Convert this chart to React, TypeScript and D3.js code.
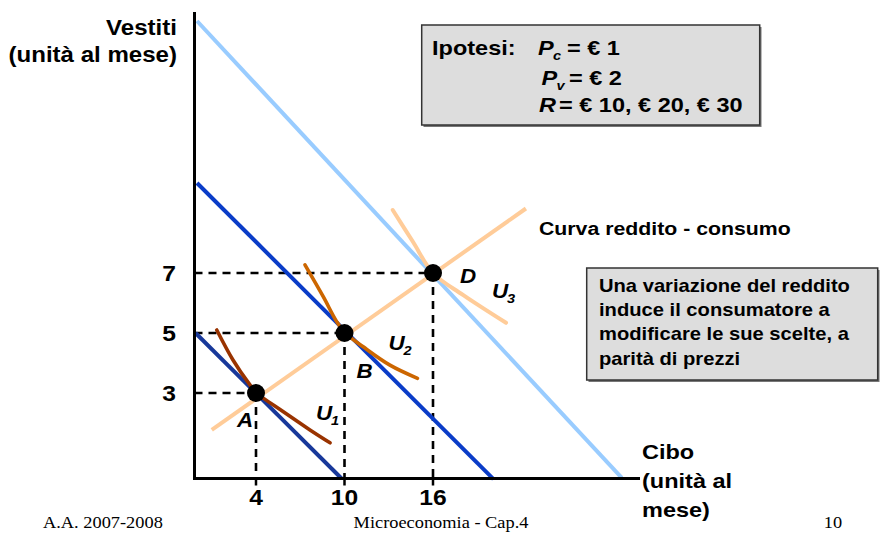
import * as d3 from 'd3';

// ---- dati (unità: cibo, vestiti) ----
const xTicks = [4, 10, 16];
const yTicks = [3, 5, 7];

const budgetR10: [number, number][] = [[-0.1, 5.0], [9.8, 0.15]];
const budgetR20: [number, number][] = [[0, 10.0], [20.1, 0.13]];
const budgetR30: [number, number][] = [[0, 15.4], [28.8, 0.17]];

const incomeConsumption: [number, number][] = [[1.0, 1.77], [22.3, 9.15]];

const curveU1: [number, number][] = [
  [1.34, 5.1], [2.44, 4.1], [3.59, 3.27], [4.05, 3.0], [5.83, 2.38], [7.66, 1.77], [9.02, 1.34],
];
const curveU2: [number, number][] = [
  [7.32, 7.27], [8.56, 6.21], [9.47, 5.38], [10.05, 5.0], [11.27, 4.54], [13.08, 3.93], [14.95, 3.49],
];
const curveU3: [number, number][] = [
  [13.27, 9.1], [14.64, 8.04], [16.0, 7.0], [18.03, 6.27], [20.95, 5.34],
];

const optimumNames = ['A', 'B', 'D'];
const optimumCibo = [4, 10, 16];
const optimumVestiti = [3, 5, 7];

const hypothesisLines = ['= € 1', '= € 2', '= € 10, € 20, € 30'];
const noteLines = [
  'Una variazione del reddito',
  'induce il consumatore a',
  'modificare le sue scelte, a',
  'parità di prezzi',
];

// ---- layout ----
const W = 882;
const H = 534;
const SANS = '"Liberation Sans", Arial, Helvetica, sans-serif';
const SERIF = '"Liberation Serif", "Times New Roman", serif';

const x = d3.scaleLinear().domain([0, 30]).range([197, 639.5]);
const y = d3.scaleLinear().domain([0, 16]).range([483, 3]);

const axisX = 194.5;
const axisY = 478.5;

const line = d3.line<[number, number]>().x((d) => x(d[0])).y((d) => y(d[1]));
const smooth = d3
  .line<[number, number]>()
  .x((d) => x(d[0]))
  .y((d) => y(d[1]))
  .curve(d3.curveCatmullRom.alpha(0.5));

type TProps = {
  x: number;
  y: number;
  size: number;
  anchor?: 'start' | 'middle' | 'end';
  italic?: boolean;
  weight?: string;
  family?: string;
  sx?: number;
  children: React.ReactNode;
};

// il testo della slide è leggermente allargato in orizzontale
function T({ x, y, size, anchor = 'start', italic, weight = 'bold', family = SANS, sx = 1.12, children }: TProps) {
  return (
    <text
      transform={`translate(${x},${y}) scale(${sx},1)`}
      textAnchor={anchor}
      fontSize={size}
      fontWeight={weight}
      fontStyle={italic ? 'italic' : 'normal'}
      fontFamily={family}
      fill="#000"
    >
      {children}
    </text>
  );
}

function ULabel({ px, py, sub }: { px: number; py: number; sub: string }) {
  return (
    <g>
      <T x={px} y={py} size={20} italic>U</T>
      <T x={px + 15} y={py + 5} size={13} italic>{sub}</T>
    </g>
  );
}

export default function App() {
  const pts = optimumNames.map((n, i) => ({ name: n, cx: x(optimumCibo[i]), cy: y(optimumVestiti[i]) }));
  // posizione delle etichette rispetto ai punti (pixel)
  const nameOffsets = [[-19, 34], [12, 45], [27, 10]];
  const uOffsets = [[60, 27], [44, 17], [59, 25]];
  const dash = '8,6';

  return (
    <svg width={W} height={H} style={{ position: 'absolute', left: 0, top: 0, background: '#fff' }}>
      <rect width={W} height={H} fill="#fff" />

      {/* linee tratteggiate */}
      {pts.map((p) => (
        <g key={'d' + p.name} stroke="#000" strokeWidth={2.6} strokeDasharray={dash} fill="none">
          <line x1={axisX} y1={p.cy} x2={p.cx} y2={p.cy} />
          <line x1={p.cx} y1={p.cy} x2={p.cx} y2={axisY} />
        </g>
      ))}

      {/* vincoli di bilancio */}
      <path d={line(budgetR30) ?? ''} stroke="#99ccff" strokeWidth={4} fill="none" />
      <path d={line(budgetR20) ?? ''} stroke="#0a3cc8" strokeWidth={4} fill="none" />
      <path d={line(budgetR10) ?? ''} stroke="#18389a" strokeWidth={4} fill="none" />

      {/* curva reddito-consumo e curve di indifferenza */}
      <path d={line(incomeConsumption) ?? ''} stroke="#ffcc99" strokeWidth={4} fill="none" />
      <path d={smooth(curveU3) ?? ''} stroke="#ffcc99" strokeWidth={4} fill="none" strokeLinecap="round" />
      <path d={smooth(curveU2) ?? ''} stroke="#cc6600" strokeWidth={3.6} fill="none" strokeLinecap="round" />
      <path d={smooth(curveU1) ?? ''} stroke="#993300" strokeWidth={3.6} fill="none" strokeLinecap="round" />

      {/* assi */}
      <line x1={axisX} y1={12} x2={axisX} y2={axisY + 1.5} stroke="#000" strokeWidth={3} />
      <line x1={axisX - 1.5} y1={axisY} x2={640} y2={axisY} stroke="#000" strokeWidth={3} />
      {xTicks.map((t) => (
        <line key={'t' + t} x1={x(t)} y1={axisY} x2={x(t)} y2={axisY + 7} stroke="#000" strokeWidth={2.5} />
      ))}

      {/* punti ottimali */}
      {pts.map((p) => (
        <circle key={p.name} cx={p.cx} cy={p.cy} r={9} fill="#000" />
      ))}

      {/* etichette dei tick */}
      {xTicks.map((t) => (
        <T key={'xl' + t} x={x(t)} y={505} size={22} anchor="middle">{t}</T>
      ))}
      {yTicks.map((t) => (
        <T key={'yl' + t} x={176} y={y(t) + 8} size={22} anchor="end">{t}</T>
      ))}

      {/* etichette punti e curve */}
      {pts.map((p, i) => (
        <g key={'l' + p.name}>
          <T x={p.cx + nameOffsets[i][0]} y={p.cy + nameOffsets[i][1]} size={20} italic>{p.name}</T>
          <ULabel px={p.cx + uOffsets[i][0]} py={p.cy + uOffsets[i][1]} sub={String(i + 1)} />
        </g>
      ))}

      {/* titoli assi */}
      <T x={177} y={35} size={21.5} anchor="end">Vestiti</T>
      <T x={177} y={62} size={21.5} anchor="end">(unità al mese)</T>
      <T x={642} y={459} size={21}>Cibo</T>
      <T x={642} y={488} size={21}>(unità al</T>
      <T x={642} y={517} size={21}>mese)</T>

      <T x={539} y={235} size={19}>Curva reddito - consumo</T>

      {/* riquadro ipotesi */}
      <rect x={423.5} y={27} width={338} height={100} fill="#777" />
      <rect x={421.7} y={25} width={338} height={100} fill="#dddddd" stroke="#333" strokeWidth={1.5} />
      <T x={432} y={55} size={21}>Ipotesi:</T>
      <T x={538} y={55} size={21} italic>P</T>
      <T x={553} y={60} size={13} italic>c</T>
      <T x={567} y={55} size={21}>{hypothesisLines[0]}</T>
      <T x={541.5} y={85} size={21} italic>P</T>
      <T x={556.5} y={90} size={13} italic>v</T>
      <T x={569} y={85} size={21}>{hypothesisLines[1]}</T>
      <T x={539} y={112} size={21} italic>R</T>
      <T x={559} y={112} size={21}>{hypothesisLines[2]}</T>

      {/* riquadro nota */}
      <rect x={588.5} y={270} width={291} height={112} fill="#777" />
      <rect x={586.7} y={268} width={291} height={112} fill="#dddddd" stroke="#333" strokeWidth={1.5} />
      {noteLines.map((s, i) => (
        <T key={'n' + i} x={599} y={292 + i * 24.2} size={18}>{s}</T>
      ))}

      {/* piè di pagina */}
      <T x={43} y={528} size={17} weight="normal" family={SERIF} sx={1.08}>A.A. 2007-2008</T>
      <T x={441} y={528} size={17} weight="normal" family={SERIF} sx={1.08} anchor="middle">Microeconomia - Cap.4</T>
      <T x={833} y={528} size={17} weight="normal" family={SERIF} sx={1.08} anchor="middle">10</T>
    </svg>
  );
}
